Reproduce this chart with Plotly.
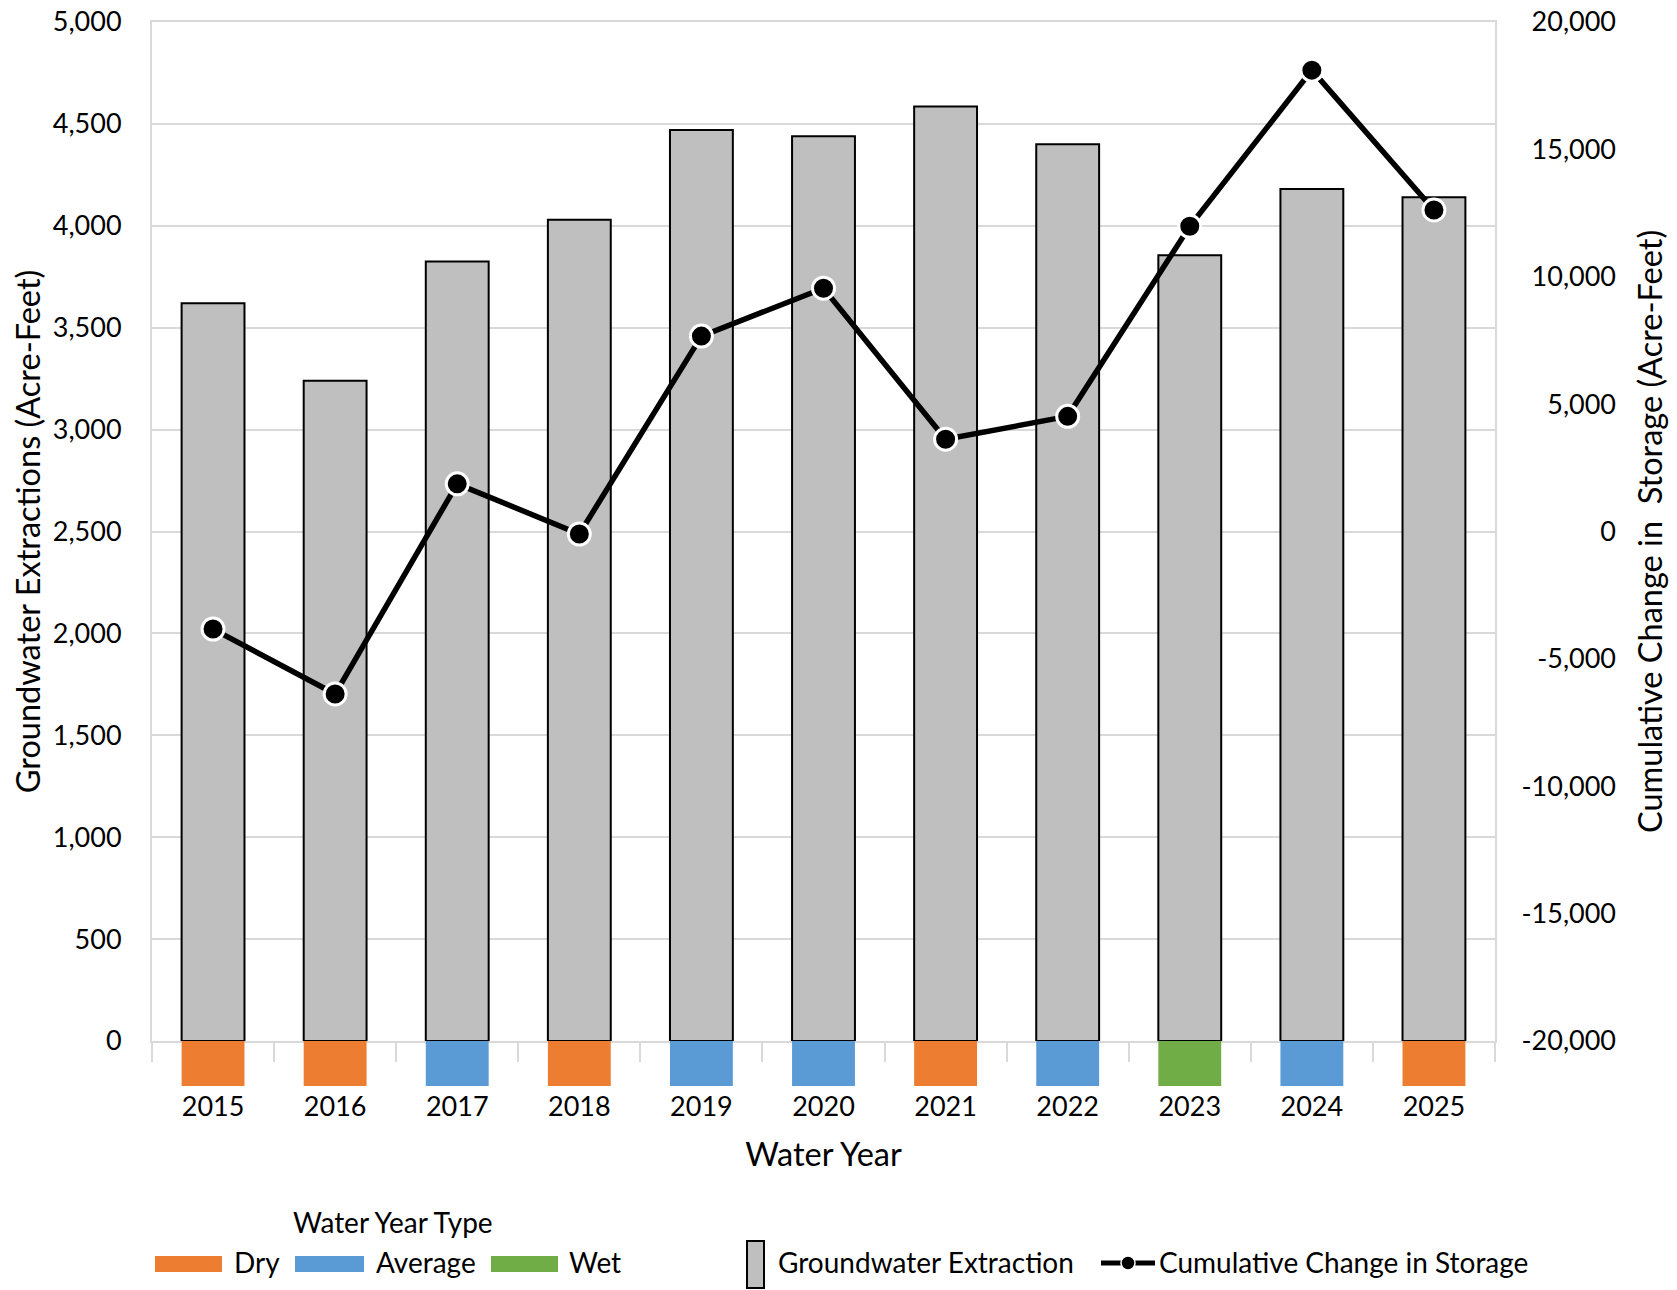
import plotly.graph_objects as go

# ---------------- data ----------------
years = ["2015", "2016", "2017", "2018", "2019", "2020", "2021", "2022", "2023", "2024", "2025"]
extraction = [3620, 3240, 3825, 4030, 4470, 4440, 4585, 4400, 3855, 4180, 4140]
cum_storage = [-3830, -6380, 1870, -100, 7670, 9550, 3620, 4520, 11980, 18110, 12620]
year_type = ["Dry", "Dry", "Average", "Dry", "Average", "Average", "Dry", "Average", "Wet", "Average", "Dry"]
type_names = ["Dry", "Average", "Wet"]
y1_ticks = [0, 500, 1000, 1500, 2000, 2500, 3000, 3500, 4000, 4500, 5000]
y2_ticks = [-20000, -15000, -10000, -5000, 0, 5000, 10000, 15000, 20000]

# ---------------- styles ----------------
type_colors = {"Dry": "#ED7D31", "Average": "#5B9BD5", "Wet": "#70AD47"}
BAR_FILL = "#BFBFBF"
GRID = "#D9D9D9"
FONT = "Lato"
W, H = 1677, 1290
ML, MR, MT, MB = 152, 55, 22, 204
PW, PH = W - ML - MR, H - MT - MB
PLOT_RIGHT = 1495
ZERO_PX = 1041
BLOCK_DEPTH = 1  # blocks fill the strip under the zero line


def px(x, y):
    """pixel position -> paper coordinates (used only for legend / titles)"""
    return (x - ML) / PW, (H - MB - y) / PH


x_dom_end = (PLOT_RIGHT - ML) / PW
d0 = (H - MB - ZERO_PX) / PH

fig = go.Figure()

fig.add_trace(go.Bar(
    x=years, y=extraction, name="Groundwater Extraction",
    marker=dict(color=BAR_FILL, line=dict(color="black", width=2)),
    xaxis="x", yaxis="y", showlegend=False,
))

fig.add_trace(go.Bar(
    x=years, y=[-BLOCK_DEPTH] * len(years), name="Water Year Type",
    marker=dict(color=[type_colors[t] for t in year_type], line=dict(width=0)),
    customdata=year_type, hovertemplate="%{x}: %{customdata}<extra></extra>",
    xaxis="x", yaxis="y3", showlegend=False,
))

fig.add_trace(go.Scatter(
    x=years, y=cum_storage, name="Cumulative Change in Storage",
    mode="lines+markers",
    line=dict(color="black", width=5.5),
    marker=dict(color="black", size=22, line=dict(color="white", width=3)),
    xaxis="x", yaxis="y2", showlegend=False,
))

tickfont = dict(family=FONT, size=27, color="black")
titlefont = dict(family=FONT, size=32.5, color="black")

fig.update_layout(
    width=W, height=H,
    margin=dict(l=ML, r=MR, t=MT, b=MB, pad=0, autoexpand=False),
    paper_bgcolor="white", plot_bgcolor="white",
    font=dict(family=FONT, color="black"),
    bargap=0.485,
    showlegend=False,
    xaxis=dict(
        domain=[0, x_dom_end], anchor="y", type="category",
        range=[-0.5, len(years) - 0.5], automargin=False,
        showline=True, linecolor=GRID, linewidth=2, mirror=True,
        ticks="outside", tickson="boundaries", ticklen=19, tickwidth=2, tickcolor=GRID,
        tickfont=tickfont, ticklabelstandoff=41,
        showgrid=False,
        title=dict(text="Water Year", font=titlefont, standoff=22),
    ),
    yaxis=dict(
        domain=[d0, 1], range=[0, 5000], tickvals=y1_ticks,
        ticktext=[f"{v:,}" for v in y1_ticks], tickfont=tickfont, automargin=False,
        showgrid=True, gridcolor=GRID, gridwidth=2,
        zeroline=False,
        showline=True, linecolor=GRID, linewidth=2, mirror=True,
        ticks="", ticklabelstandoff=23,
        title=dict(text="Groundwater Extractions (Acre-Feet)", font=titlefont, standoff=2),
    ),
    yaxis2=dict(
        overlaying="y", anchor="free", position=1.0, side="left", automargin=False,
        range=[-20000, 20000], tickvals=y2_ticks, ticktext=[f"{v:,}" for v in y2_ticks],
        tickfont=tickfont, showgrid=False, zeroline=False, showline=False,
        ticks="", ticklabelstandoff=6,
    ),
    yaxis3=dict(
        domain=[0, d0], anchor="x", range=[-BLOCK_DEPTH, 0], automargin=False,
        showgrid=False, zeroline=False, showline=False, showticklabels=False, ticks="",
    ),
)

shapes = []
annotations = []

# right axis title
rx, ry = px(1649, 532)
annotations.append(dict(
    text="Cumulative Change in  Storage (Acre-Feet)", x=rx, y=ry, xref="paper", yref="paper",
    textangle=-90, showarrow=False, xanchor="center", yanchor="middle", font=titlefont,
))

legfont = dict(family=FONT, size=28, color="black")

# Water year type legend
tx, ty = px(393, 1222)
annotations.append(dict(text="Water Year Type", x=tx, y=ty, xref="paper", yref="paper",
                        showarrow=False, xanchor="center", yanchor="middle", font=legfont))
swatches = {"Dry": (155, 222, 232), "Average": (295, 364, 374), "Wet": (491, 558, 567)}
for name in type_names:
    x0p, x1p, txp = swatches[name]
    a0, b0 = px(x0p, 1272)
    a1, b1 = px(x1p, 1256)
    shapes.append(dict(type="rect", xref="paper", yref="paper", x0=a0, x1=a1, y0=b0, y1=b1,
                       fillcolor=type_colors[name], line=dict(width=0)))
    lx, ly = px(txp, 1262)
    annotations.append(dict(text=name, x=lx, y=ly, xref="paper", yref="paper", showarrow=False,
                            xanchor="left", yanchor="middle", font=legfont))

# Groundwater extraction legend
a0, b0 = px(747, 1288)
a1, b1 = px(764, 1241)
shapes.append(dict(type="rect", xref="paper", yref="paper", x0=a0, x1=a1, y0=b0, y1=b1,
                   fillcolor=BAR_FILL, line=dict(color="black", width=2)))
lx, ly = px(776, 1262)
annotations.append(dict(text="Groundwater Extraction", x=lx, y=ly, xref="paper", yref="paper",
                        showarrow=False, xanchor="left", yanchor="middle", font=legfont))

# Cumulative change legend
a0, b0 = px(1101, 1263)
a1, _ = px(1155, 1263)
shapes.append(dict(type="line", xref="paper", yref="paper", x0=a0, x1=a1, y0=b0, y1=b0,
                   line=dict(color="black", width=5)))
c0, d0c = px(1121, 1270)
c1, d1c = px(1135, 1256)
shapes.append(dict(type="circle", xref="paper", yref="paper", x0=c0, x1=c1, y0=d0c, y1=d1c,
                   fillcolor="black", line=dict(color="white", width=1.5)))
lx, ly = px(1157, 1262)
annotations.append(dict(text="Cumulative Change in Storage", x=lx, y=ly, xref="paper", yref="paper",
                        showarrow=False, xanchor="left", yanchor="middle", font=legfont))

fig.update_layout(shapes=shapes, annotations=annotations)

fig.write_html("out.html")
